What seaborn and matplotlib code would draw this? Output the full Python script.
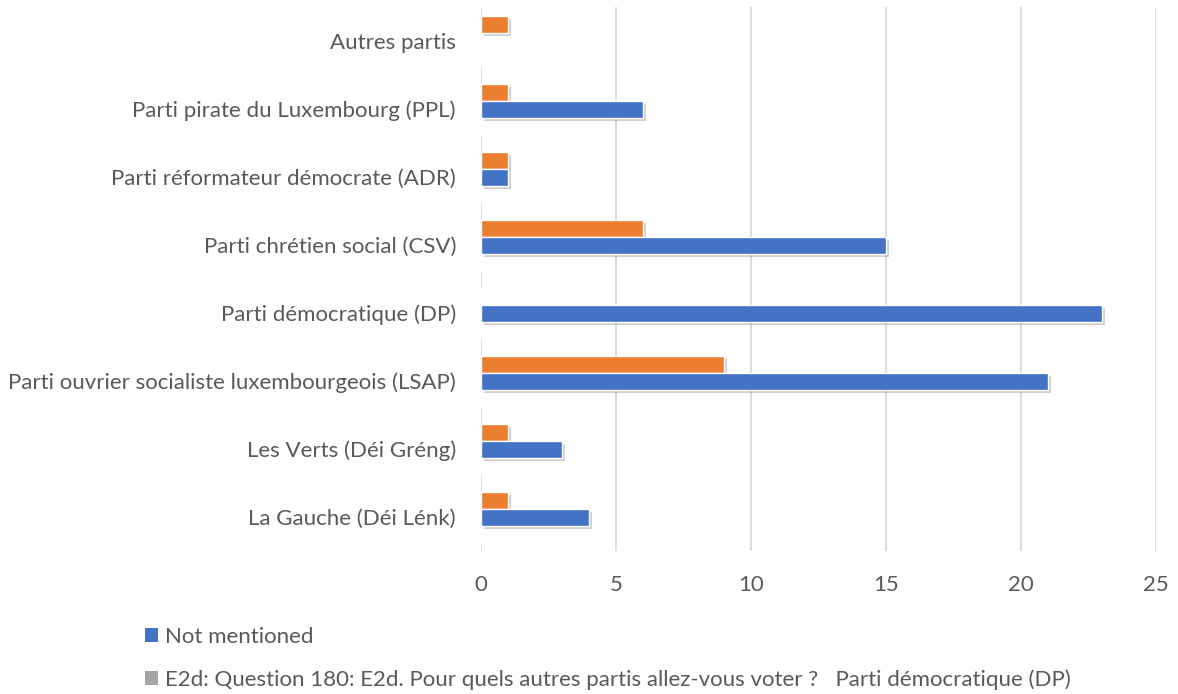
import matplotlib
matplotlib.use("Agg")
import matplotlib.pyplot as plt
import matplotlib.patheffects as pe
from matplotlib.patches import Patch
import seaborn as sns
import pandas as pd

categories = ["Autres partis", "Parti pirate du Luxembourg (PPL)", "Parti réformateur démocrate (ADR)",
              "Parti chrétien social (CSV)", "Parti démocratique (DP)",
              "Parti ouvrier socialiste luxembourgeois (LSAP)", "Les Verts (Déi Gréng)", "La Gauche (Déi Lénk)"]
mentioned = [1, 1, 1, 6, 0, 9, 1, 1]
not_mentioned = [0, 6, 1, 15, 23, 21, 3, 4]
question_series = [0, 0, 0, 0, 0, 0, 0, 0]
series_names = ["Mentioned", "Not mentioned",
                "E2d: Question 180: E2d. Pour quels autres partis allez-vous voter ?   Parti démocratique (DP)"]
legend_labels = ["Not mentioned",
                 "E2d: Question 180: E2d. Pour quels autres partis allez-vous voter ?   Parti démocratique (DP)"]
xticks = [0, 5, 10, 15, 20, 25]

n = len(categories)
df = pd.DataFrame({
    "cat": categories * 3,
    "val": mentioned + not_mentioned + question_series,
    "series": [series_names[0]] * n + [series_names[1]] * n + [series_names[2]] * n,
})

sns.set_style("white")
plt.rcParams["font.family"] = ["Lato", "DejaVu Sans"]
text_color = "#595959"
grid_color = "#d9d9d9"
orange = "#ED7D31"
blue = "#4472C4"
gray = "#A5A5A5"

fig = plt.figure(figsize=(11.78, 6.94), dpi=100)
ax = fig.add_axes([481 / 1178, 1 - 551 / 694, (1156 - 481) / 1178, (551 - 7) / 694])

sns.barplot(data=df, y="cat", x="val", hue="series", order=categories,
            hue_order=series_names, palette=[orange, blue, gray], orient="h",
            width=0.75, dodge=True, ax=ax, legend=False, saturation=1)

for p in ax.patches:
    if p.get_width() > 0:
        p.set_path_effects([pe.SimplePatchShadow(offset=(2, -2.5), shadow_rgbFace="black", alpha=0.18),
                            pe.Normal()])
    p.set_zorder(3)

ax.set_xlim(0, 25)
ax.set_xticks(xticks)
ax.set_xticklabels([str(t) for t in xticks])
ax.grid(axis="x", color=grid_color, linewidth=1.3, zorder=0)
ax.set_axisbelow(True)
for s in ax.spines.values():
    s.set_visible(False)
ax.tick_params(axis="x", length=0, labelsize=16, labelcolor=text_color, pad=17)
ax.tick_params(axis="y", length=0, labelsize=16, labelcolor=text_color, pad=18)
ax.set_xlabel("")
ax.set_ylabel("")

handles = [Patch(facecolor=blue, edgecolor="none"), Patch(facecolor=gray, edgecolor="none")]
fig.legend(handles, legend_labels, loc="upper left", bbox_to_anchor=(145 / 1178, 1 - 627 / 694),
           frameon=False, fontsize=16, labelcolor=text_color, handlelength=0.6, handleheight=0.6,
           handletextpad=0.3, labelspacing=1.0, borderpad=0, borderaxespad=0)

fig.savefig("out.png", dpi=100)
